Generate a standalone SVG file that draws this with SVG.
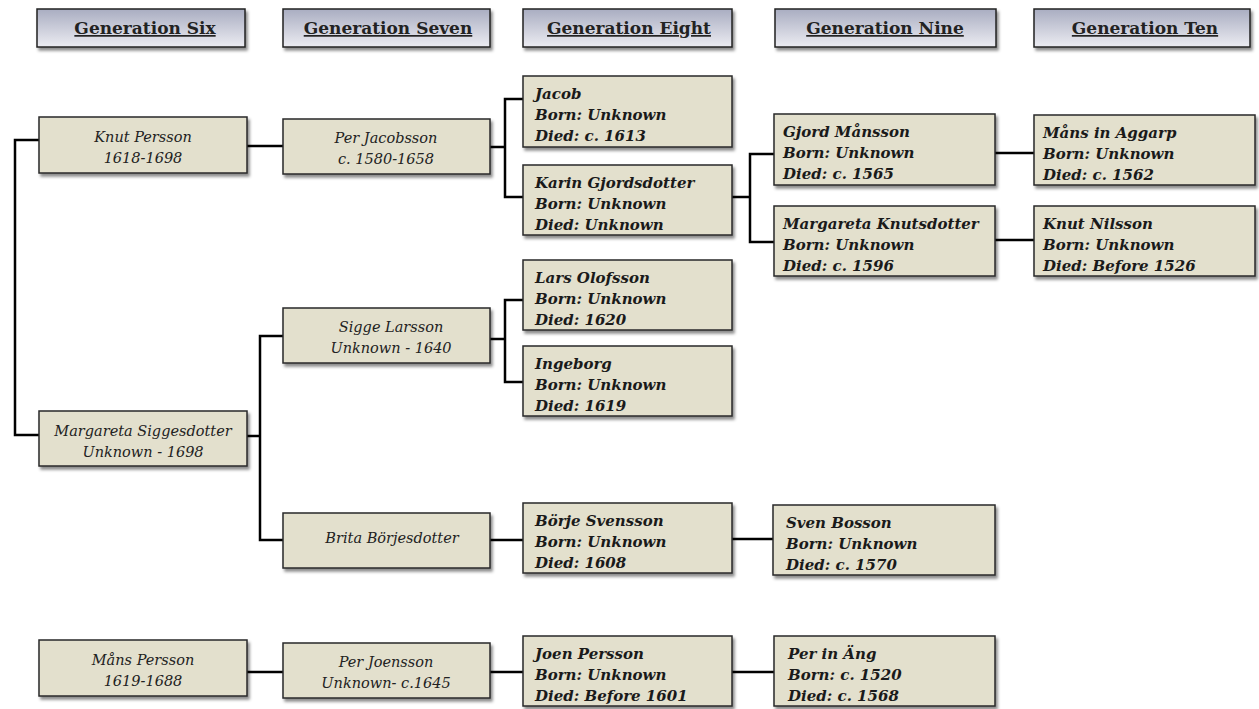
<svg xmlns="http://www.w3.org/2000/svg" width="1259" height="709" viewBox="0 0 1259 709">
<defs>
<linearGradient id="hg" x1="0" y1="0" x2="0" y2="1">
<stop offset="0" stop-color="#a9adc1"/>
<stop offset="1" stop-color="#ececf2"/>
</linearGradient>
<filter id="sh" x="-5%" y="-10%" width="115%" height="130%">
<feDropShadow dx="2" dy="3" stdDeviation="1.5" flood-color="#000" flood-opacity="0.45"/>
</filter>
<style>
.hdr{fill:url(#hg);stroke:#222;stroke-width:1.5;filter:url(#sh)}
.box{fill:#e3e0cd;stroke:#2a2a2a;stroke-width:1.5;filter:url(#sh)}
.ht{font-family:"DejaVu Serif","Liberation Serif",serif;font-weight:bold;font-size:17px;fill:#222;text-anchor:middle;text-decoration:underline}
.ct{font-family:"DejaVu Serif","Liberation Serif",serif;font-style:italic;font-size:14.5px;fill:#222;text-anchor:middle}
.lt{font-family:"DejaVu Serif","Liberation Serif",serif;font-style:italic;font-weight:bold;font-size:15px;fill:#1a1a1a}
.cn{fill:none;stroke:#000;stroke-width:2.5}
</style>
</defs>
<rect width="1259" height="709" fill="#fff"/>

<g id="headers">
<g id="h6"><rect class="hdr" x="37" y="9" width="208" height="38"/><text class="ht" x="145" y="34">Generation Six</text></g>
<g id="h7"><rect class="hdr" x="283" y="9" width="207" height="38"/><text class="ht" x="388" y="34">Generation Seven</text></g>
<g id="h8"><rect class="hdr" x="523" y="9" width="209" height="38"/><text class="ht" x="629" y="34">Generation Eight</text></g>
<g id="h9"><rect class="hdr" x="775" y="9" width="221" height="38"/><text class="ht" x="885" y="34">Generation Nine</text></g>
<g id="h10"><rect class="hdr" x="1034" y="9" width="216" height="38"/><text class="ht" x="1145" y="34">Generation Ten</text></g>
</g>

<g id="connectors">
<path class="cn" d="M39,140 H15 V435 H39"/>
<path class="cn" d="M247,146 H283"/>
<path class="cn" d="M490,147 H505"/>
<path class="cn" d="M523,99 H505 V197 H523"/>
<path class="cn" d="M732,197 H750"/>
<path class="cn" d="M774,154 H750 V242 H774"/>
<path class="cn" d="M995,153 H1034"/>
<path class="cn" d="M995,240 H1034"/>
<path class="cn" d="M247,436 H260"/>
<path class="cn" d="M283,336 H260 V540 H283"/>
<path class="cn" d="M490,339 H505"/>
<path class="cn" d="M523,300 H505 V382 H523"/>
<path class="cn" d="M490,540 H523"/>
<path class="cn" d="M732,539 H773"/>
<path class="cn" d="M247,672 H283"/>
<path class="cn" d="M490,672 H523"/>
<path class="cn" d="M732,672 H774"/>
</g>

<g id="knut-persson"><rect class="box" x="39" y="117" width="208" height="56"/><text class="ct" x="143" y="142">Knut Persson</text><text class="ct" x="143" y="163">1618-1698</text></g>
<g id="margareta-siggesdotter"><rect class="box" x="39" y="411" width="208" height="55"/><text class="ct" x="143" y="436">Margareta Siggesdotter</text><text class="ct" x="143" y="457">Unknown - 1698</text></g>
<g id="mans-persson"><rect class="box" x="39" y="640" width="208" height="56"/><text class="ct" x="143" y="665">Måns Persson</text><text class="ct" x="143" y="686">1619-1688</text></g>

<g id="per-jacobsson"><rect class="box" x="283" y="119" width="207" height="55"/><text class="ct" x="386" y="143">Per Jacobsson</text><text class="ct" x="386" y="164">c. 1580-1658</text></g>
<g id="sigge-larsson"><rect class="box" x="283" y="308" width="207" height="55"/><text class="ct" x="391" y="332">Sigge Larsson</text><text class="ct" x="391" y="353">Unknown - 1640</text></g>
<g id="brita-borjesdotter"><rect class="box" x="283" y="513" width="207" height="55"/><text class="ct" x="392" y="543">Brita Börjesdotter</text></g>
<g id="per-joensson"><rect class="box" x="283" y="643" width="207" height="55"/><text class="ct" x="386" y="667">Per Joensson</text><text class="ct" x="386" y="688">Unknown- c.1645</text></g>

<g id="jacob"><rect class="box" x="523" y="76" width="209" height="71"/><text class="lt" x="535" y="99">Jacob</text><text class="lt" x="535" y="120">Born: Unknown</text><text class="lt" x="535" y="141">Died: c. 1613</text></g>
<g id="karin-gjordsdotter"><rect class="box" x="523" y="165" width="209" height="70"/><text class="lt" x="535" y="188">Karin Gjordsdotter</text><text class="lt" x="535" y="209">Born: Unknown</text><text class="lt" x="535" y="230">Died: Unknown</text></g>
<g id="lars-olofsson"><rect class="box" x="523" y="260" width="209" height="70"/><text class="lt" x="535" y="283">Lars Olofsson</text><text class="lt" x="535" y="304">Born: Unknown</text><text class="lt" x="535" y="325">Died: 1620</text></g>
<g id="ingeborg"><rect class="box" x="523" y="346" width="209" height="70"/><text class="lt" x="535" y="369">Ingeborg</text><text class="lt" x="535" y="390">Born: Unknown</text><text class="lt" x="535" y="411">Died: 1619</text></g>
<g id="borje-svensson"><rect class="box" x="523" y="503" width="209" height="70"/><text class="lt" x="535" y="526">Börje Svensson</text><text class="lt" x="535" y="547">Born: Unknown</text><text class="lt" x="535" y="568">Died: 1608</text></g>
<g id="joen-persson"><rect class="box" x="523" y="636" width="209" height="70"/><text class="lt" x="535" y="659">Joen Persson</text><text class="lt" x="535" y="680">Born: Unknown</text><text class="lt" x="535" y="701">Died: Before 1601</text></g>

<g id="gjord-mansson"><rect class="box" x="774" y="114" width="221" height="71"/><text class="lt" x="783" y="137">Gjord Månsson</text><text class="lt" x="783" y="158">Born: Unknown</text><text class="lt" x="783" y="179">Died: c. 1565</text></g>
<g id="margareta-knutsdotter"><rect class="box" x="774" y="206" width="221" height="70"/><text class="lt" x="783" y="229">Margareta Knutsdotter</text><text class="lt" x="783" y="250">Born: Unknown</text><text class="lt" x="783" y="271">Died: c. 1596</text></g>
<g id="sven-bosson"><rect class="box" x="773" y="505" width="222" height="70"/><text class="lt" x="786" y="528">Sven Bosson</text><text class="lt" x="786" y="549">Born: Unknown</text><text class="lt" x="786" y="570">Died: c. 1570</text></g>
<g id="per-in-ang"><rect class="box" x="774" y="636" width="221" height="70"/><text class="lt" x="788" y="659">Per in Äng</text><text class="lt" x="788" y="680">Born: c. 1520</text><text class="lt" x="788" y="701">Died: c. 1568</text></g>

<g id="mans-in-aggarp"><rect class="box" x="1034" y="115" width="221" height="70"/><text class="lt" x="1043" y="138">Måns in Aggarp</text><text class="lt" x="1043" y="159">Born: Unknown</text><text class="lt" x="1043" y="180">Died: c. 1562</text></g>
<g id="knut-nilsson"><rect class="box" x="1034" y="206" width="221" height="70"/><text class="lt" x="1043" y="229">Knut Nilsson</text><text class="lt" x="1043" y="250">Born: Unknown</text><text class="lt" x="1043" y="271">Died: Before 1526</text></g>
</svg>
